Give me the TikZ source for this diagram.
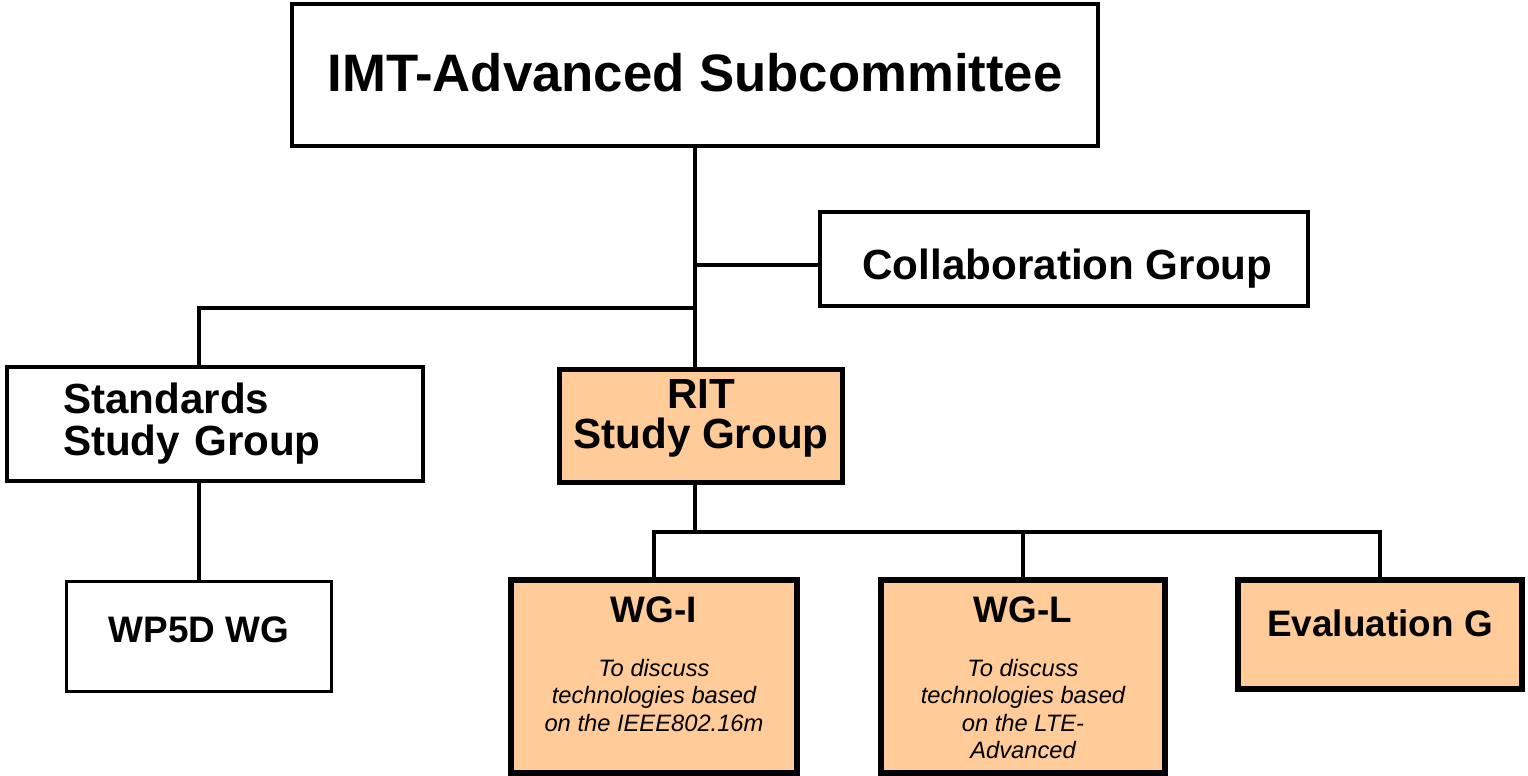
\documentclass[tikz,border=0pt]{standalone}
\usepackage{fontspec}
\setmainfont{Liberation Sans}
\definecolor{ritorange}{HTML}{FFCC99}

\begin{document}
\begin{tikzpicture}[x=0.02cm,y=-0.02cm,
        box/.style={draw, rectangle, inner sep=0pt, align=center},
        bigfont/.style={font=\bfseries\fontsize{24}{24}\selectfont},
        smallfont/.style={font=\bfseries\fontsize{21}{21}\selectfont},
        wgbox/.style={box, fill=ritorange, line width=3.4pt},
        wgtitle/.style={smallfont, inner sep=0pt, anchor=base},
        wgnote/.style={inner sep=0pt, anchor=north, align=center, font=\itshape\fontsize{13.5}{15.6}\selectfont},
        link/.style={line width=2.8pt}]
        \useasboundingbox (0,0) rectangle (1528,775);

        \node (imt) [box, line width=2.3pt, minimum width=16.12cm, minimum height=2.84cm, text depth=3.3pt,
            font=\bfseries\fontsize{30}{30}\selectfont] at (695,75) {IMT-Advanced Subcommittee};
        \node (collab) [box, bigfont, line width=2.3pt, minimum width=9.76cm, minimum height=1.88cm,
            text height=22.8pt, text depth=0pt] at (1064,259) {\hspace*{0.14cm}Collaboration Group};
        \node (std) [box, bigfont, line width=2.5pt, minimum width=8.32cm, minimum height=2.28cm,
            inner xsep=1.12cm, text width=6.08cm, align=left] at (215,424) {Standards\\Study Group};
        \node (rit) [box, font=\bfseries\fontsize{24}{23}\selectfont, fill=ritorange, line width=2.8pt,
            minimum width=5.66cm, minimum height=2.26cm, text depth=14pt] at (701,426) {RIT\\Study Group};
        \node (wp5d) [box, smallfont, line width=1.7pt, minimum width=5.3cm, minimum height=2.2cm, text depth=7.9pt] at (199,636.5) {WP5D WG};

        \node (wgI) [wgbox, minimum width=5.72cm, minimum height=3.86cm] at (654,676.5) {};
        \node (wgL) [wgbox, minimum width=5.68cm, minimum height=3.86cm] at (1023,676.5) {};
        \node (evalg) [wgbox, smallfont, minimum width=5.68cm, minimum height=2.18cm, text depth=12.5pt] at (1380,634.5) {Evaluation G};

        \node (wgItitle) [wgtitle] at (654,622) {WG-I};
        \node (wgInote) [wgnote] at (654,659) {To discuss\\technologies based\\on the IEEE802.16m};
        \node (wgLtitle) [wgtitle] at (1023,622) {WG-L};
        \node (wgLnote) [wgnote] at (1023,659) {To discuss\\technologies based\\on the LTE-\\Advanced};

        % tree lines
        \coordinate (split) at (695,308);
        \coordinate (bus) at (695,532);
        \draw[link] (imt.south) -- (imt.south |- rit.north);
        \draw[link] ([yshift=-0.12cm]collab.west) -- ([yshift=-0.12cm]collab.west -| imt.south);
        \draw[link] (split) -| (wp5d.north |- std.north);
        \draw[link] (std.south -| wp5d.north) -- (wp5d.north);
        \draw[link] (rit.south -| bus) -- (bus);
        \draw[link] (wgI.north) |- (bus) -| (evalg.north);
        \draw[link] (wgL.north) -- (wgL.north |- bus);
\end{tikzpicture}
\end{document}
